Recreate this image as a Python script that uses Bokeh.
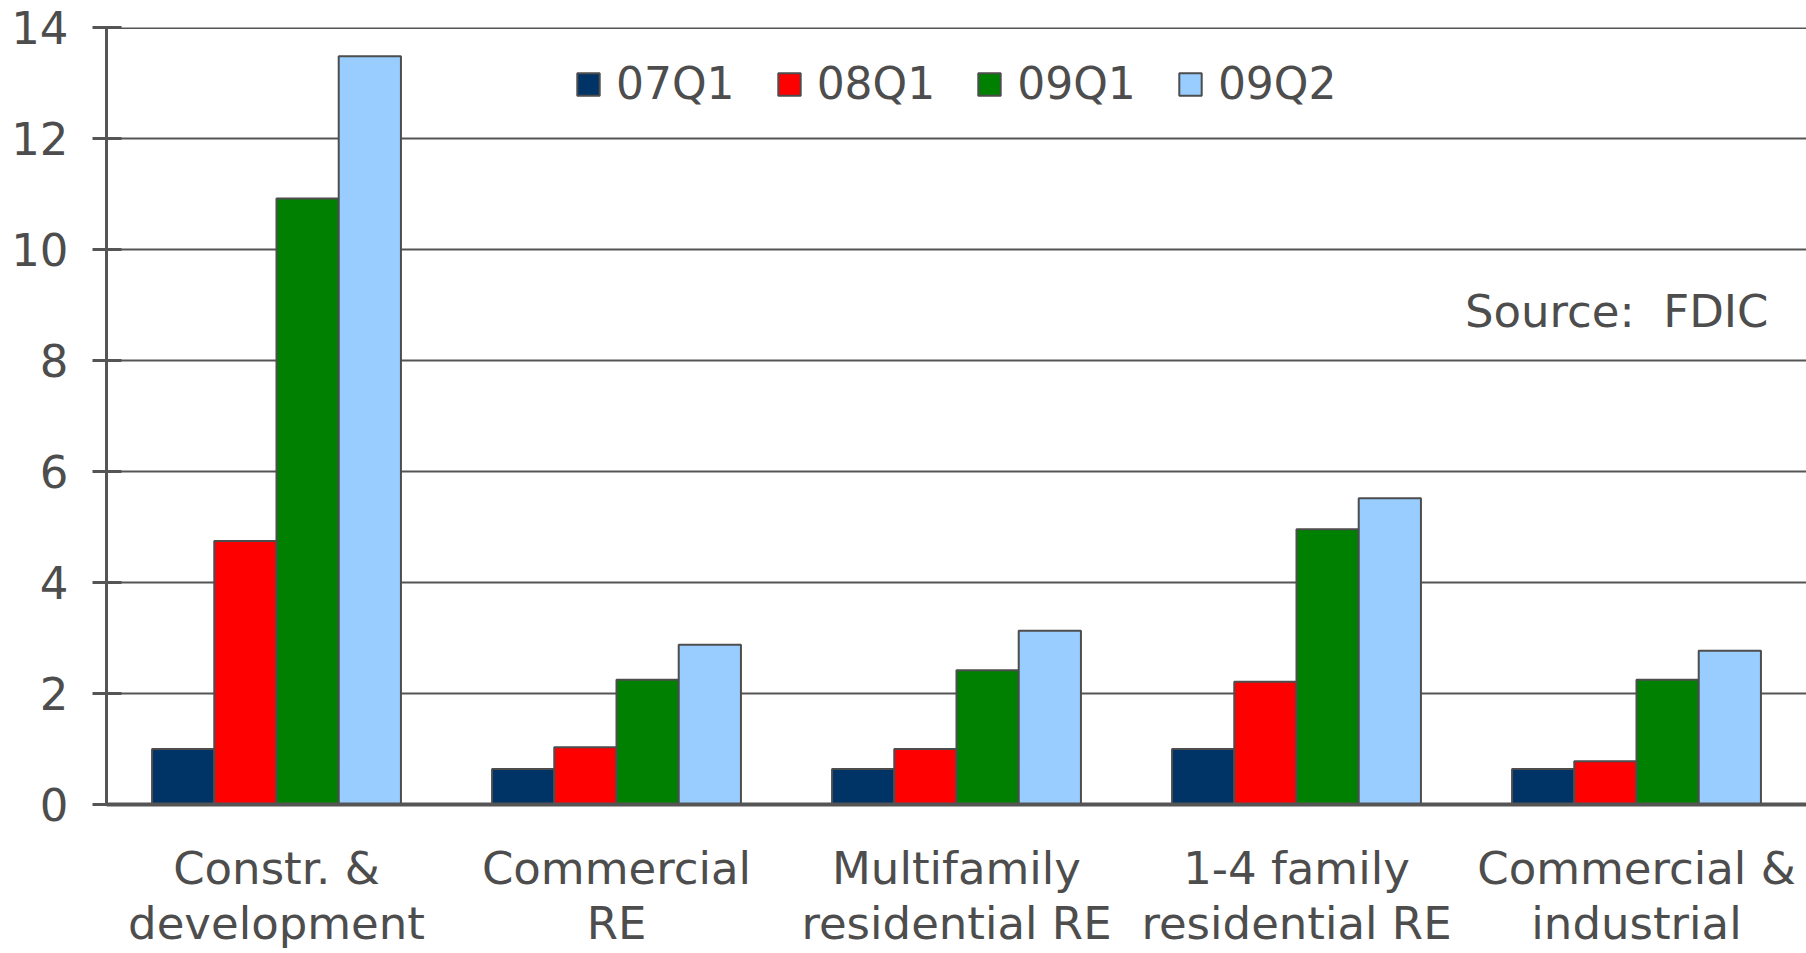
from bokeh.plotting import figure
from bokeh.models import ColumnDataSource, FactorRange, Range1d, FixedTicker, Legend, LegendItem, Label, Span
from bokeh.transform import dodge
from bokeh.embed import file_html
from bokeh.resources import INLINE

categories = ["Constr. &\ndevelopment", "Commercial\nRE", "Multifamily\nresidential RE",
              "1-4 family\nresidential RE", "Commercial &\nindustrial"]
series_names = ["07Q1", "08Q1", "09Q1", "09Q2"]
s07q1 = [1.0, 0.64, 0.64, 1.0, 0.64]
s08q1 = [4.75, 1.03, 1.0, 2.21, 0.78]
s09q1 = [10.92, 2.25, 2.42, 4.96, 2.25]
s09q2 = [13.48, 2.88, 3.13, 5.52, 2.77]
y_ticks = [0, 2, 4, 6, 8, 10, 12, 14]
colors = ["#003366", "#ff0000", "#008000", "#99ccff"]

FONT = "DejaVu Sans"
TXT = "#4d4d4d"
LINE = "#555555"

source = ColumnDataSource(dict(cat=categories, s07q1=s07q1, s08q1=s08q1, s09q1=s09q1, s09q2=s09q2))

p = figure(x_range=FactorRange(*categories, range_padding=0), y_range=Range1d(0, 14),
           width=1806, height=953, output_backend="svg", toolbar_location=None,
           min_border_left=106, min_border_right=0, min_border_top=27, min_border_bottom=148)
p.outline_line_color = None
p.xgrid.grid_line_color = None
p.ygrid.grid_line_color = LINE
p.ygrid.grid_line_width = 2
p.ygrid.level = "underlay"

bw = 0.183
offsets = [-1.5 * bw, -0.5 * bw, 0.5 * bw, 1.5 * bw]
fields = ["s07q1", "s08q1", "s09q1", "s09q2"]
items = []
for name, field, off, col in zip(series_names, fields, offsets, colors):
    r = p.vbar(x=dodge("cat", off, range=p.x_range), top=field, width=bw, source=source,
               fill_color=col, line_color="#4d4d4d", line_width=2)
    items.append(LegendItem(label=name, renderers=[r]))

p.add_layout(Span(location=14, dimension="width", line_color=LINE, line_width=3))

legend = Legend(items=items, orientation="horizontal", location=(468, 695),
                glyph_width=28, glyph_height=28, label_standoff=14, spacing=40,
                padding=0, margin=0, border_line_color=None, background_fill_alpha=0,
                label_text_font=FONT, label_text_font_size="44px", label_text_color=TXT)
p.add_layout(legend, "center")

p.yaxis.ticker = FixedTicker(ticks=y_ticks)
p.yaxis.major_label_text_font = FONT
p.yaxis.major_label_text_font_size = "45px"
p.yaxis.major_label_text_color = TXT
p.yaxis.axis_line_color = LINE
p.yaxis.axis_line_width = 3
p.yaxis.major_tick_line_color = LINE
p.yaxis.major_tick_line_width = 3
p.yaxis.major_tick_out = 14
p.yaxis.major_tick_in = 15
p.yaxis.minor_tick_line_color = None
p.yaxis.major_label_standoff = 24

p.xaxis.major_label_text_font = FONT
p.xaxis.major_label_text_font_size = "45px"
p.xaxis.major_label_text_color = TXT
p.xaxis.axis_line_color = LINE
p.xaxis.axis_line_width = 4
p.xaxis.major_tick_line_color = None
p.xaxis.major_tick_out = 0
p.xaxis.major_tick_in = 0
p.xaxis.major_label_standoff = 37
p.xaxis.major_label_text_line_height = 1.05

p.add_layout(Label(x=1662, y=8.88, x_units="screen", text="Source:\u00a0\u00a0FDIC", text_align="right",
                   text_baseline="middle", text_font=FONT, text_font_size="45px", text_color=TXT))

open("out.html", "w").write(file_html(p, INLINE))
